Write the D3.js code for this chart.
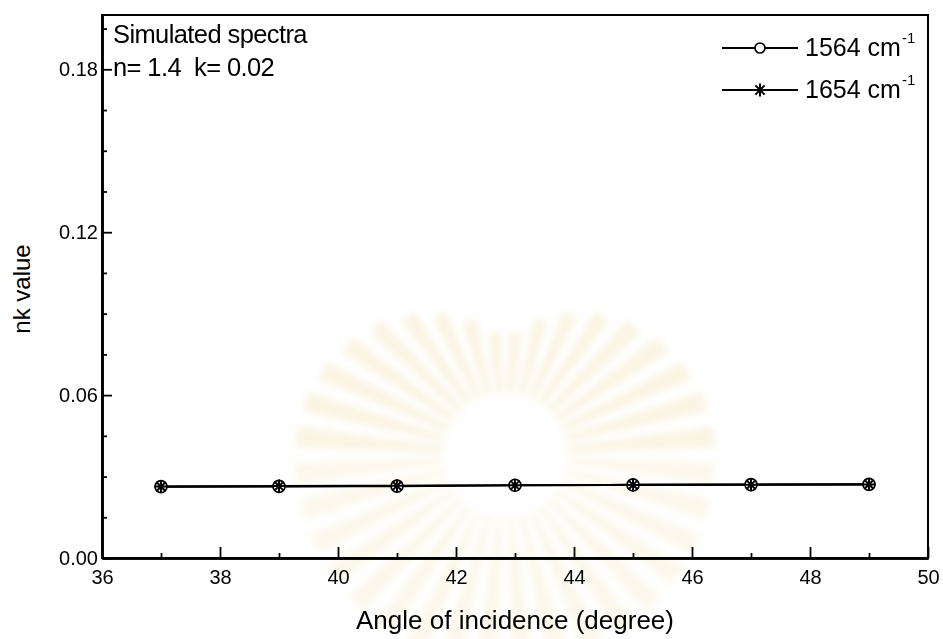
<!DOCTYPE html>
<html>
<head>
<meta charset="utf-8">
<script src="https://cdn.jsdelivr.net/npm/d3@7"></script>
<style>
  html, body { margin: 0; padding: 0; background: #fff; }
  svg { display: block; font-family: "Liberation Sans", Arial, sans-serif; }
  .pre { white-space: pre; }
</style>
</head>
<body>
<svg id="chart" width="943" height="639"></svg>
<script>
// Angle of incidence (degree)
const angles = [37, 39, 41, 43, 45, 47, 49];
// nk values for the two bands
const nk1564 = [0.0263, 0.0264, 0.0265, 0.0268, 0.0269, 0.0270, 0.0271];
const nk1654 = [0.0263, 0.0265, 0.0266, 0.0268, 0.0269, 0.0270, 0.0271];
const seriesNames = ["1564", "1654"];
const xMajorTicks = [36, 38, 40, 42, 44, 46, 48, 50];
const xMinorTicks = [37, 39, 41, 43, 45, 47, 49];
const yMajorTicks = [0, 0.06, 0.12, 0.18];
const yMinorTicks = [0.015, 0.03, 0.045, 0.075, 0.09, 0.105, 0.135, 0.15, 0.165, 0.195];
const annotationLines = ["Simulated spectra", "n= 1.4  k= 0.02"];

const svg = d3.select("#chart");
const plotLeft = 102, plotRight = 928, plotTop = 15, plotBottom = 558;

const x = d3.scaleLinear().domain([36, 50]).range([plotLeft, plotRight]);
const y = d3.scaleLinear().domain([0, 0.2]).range([plotBottom, plotTop]);

// soft emblem behind the plot
const defs = svg.append("defs");
defs.append("filter").attr("id", "soft")
  .append("feGaussianBlur").attr("stdDeviation", 3.5);
const emblem = svg.append("g").attr("transform", "translate(505,455)")
  .attr("filter", "url(#soft)").attr("opacity", 0.22);
const rayArc = d3.arc();
d3.range(-85, 86, 10).forEach(a => {
  const r0 = a * Math.PI / 180;
  emblem.append("path")
    .attr("d", rayArc({innerRadius: 62, outerRadius: 115 + 95 * Math.abs(Math.sin(r0)), startAngle: r0 - 0.05, endAngle: r0 + 0.05}))
    .attr("fill", "#e9cf80");
  emblem.append("path")
    .attr("d", rayArc({innerRadius: 62, outerRadius: 210, startAngle: r0 + Math.PI - 0.05, endAngle: r0 + Math.PI + 0.05}))
    .attr("fill", "#e9cf80").attr("opacity", 0.7);
});
emblem.append("circle").attr("r", 58).attr("fill", "#fff");

// plot frame
svg.append("rect")
  .attr("x", plotLeft).attr("y", plotTop)
  .attr("width", plotRight - plotLeft).attr("height", plotBottom - plotTop)
  .attr("fill", "none").attr("stroke", "#000").attr("stroke-width", 2);

// x axis
const gx = svg.append("g").attr("transform", `translate(0,${plotBottom})`)
  .call(d3.axisBottom(x).tickValues(xMajorTicks).tickSizeInner(-11).tickSizeOuter(0).tickPadding(12).tickFormat(d3.format("d")));
svg.append("g").attr("transform", `translate(0,${plotBottom})`)
  .call(d3.axisBottom(x).tickValues(xMinorTicks).tickSizeInner(-5).tickSizeOuter(0).tickFormat(""));

// y axis
const gy = svg.append("g").attr("transform", `translate(${plotLeft},0)`)
  .call(d3.axisLeft(y).tickValues(yMajorTicks).tickSizeInner(-10).tickSizeOuter(0).tickPadding(4).tickFormat(d3.format(".2f")));
svg.append("g").attr("transform", `translate(${plotLeft},0)`)
  .call(d3.axisLeft(y).tickValues(yMinorTicks).tickSizeInner(-5).tickSizeOuter(0).tickFormat(""));

svg.selectAll(".domain").attr("stroke", "#000").attr("stroke-width", 2.6);
svg.selectAll(".tick line").attr("stroke", "#000").attr("stroke-width", 1.8);
[gx, gy].forEach(g => g.selectAll("text").attr("font-size", 20).attr("fill", "#000")
  .attr("font-family", "Liberation Sans, Arial, sans-serif"));

// axis titles
svg.append("text").attr("x", (plotLeft + plotRight) / 2).attr("y", 629)
  .attr("text-anchor", "middle").attr("font-size", 26).text("Angle of incidence (degree)");
svg.append("text").attr("transform", `translate(30,289) rotate(-90)`)
  .attr("text-anchor", "middle").attr("font-size", 24).text("nk value");

// annotation
annotationLines.forEach((t, i) => {
  svg.append("text").attr("class", "pre").attr("x", 113).attr("y", 43 + i * 33)
    .attr("font-size", 25.5).attr("letter-spacing", -0.6).text(t);
});

// markers
function circleMark(g, cx, cy, r) {
  g.append("circle").attr("cx", cx).attr("cy", cy).attr("r", r)
    .attr("fill", "#fff").attr("stroke", "#000").attr("stroke-width", 1.7);
}
function starMark(g, cx, cy, r) {
  const p = d3.path();
  [0, 45, 90, 135].forEach(a => {
    const t = a * Math.PI / 180;
    p.moveTo(cx - r * Math.cos(t), cy - r * Math.sin(t));
    p.lineTo(cx + r * Math.cos(t), cy + r * Math.sin(t));
  });
  g.append("path").attr("d", p.toString()).attr("stroke", "#000").attr("stroke-width", 2).attr("fill", "none");
}

const line = d3.line().x((d, i) => x(angles[i])).y(d => y(d));
[nk1564, nk1654].forEach(s => {
  svg.append("path").datum(s).attr("d", line)
    .attr("fill", "none").attr("stroke", "#000").attr("stroke-width", 2.2);
});
const marks = svg.append("g");
nk1564.forEach((v, i) => circleMark(marks, x(angles[i]), y(v), 6));
nk1654.forEach((v, i) => starMark(marks, x(angles[i]), y(v), 6.5));

// legend
const legend = svg.append("g");
const markFns = [(g, cx, cy) => circleMark(g, cx, cy, 5), (g, cx, cy) => starMark(g, cx, cy, 6.5)];
seriesNames.forEach((name, i) => {
  const ly = 48 + i * 42;
  legend.append("line").attr("x1", 722).attr("x2", 798).attr("y1", ly).attr("y2", ly)
    .attr("stroke", "#000").attr("stroke-width", 2);
  markFns[i](legend, 760, ly);
  const t = legend.append("text").attr("x", 805).attr("y", ly + 8).attr("font-size", 25);
  t.append("tspan").text(name + " cm");
  t.append("tspan").attr("dy", -13).attr("dx", 1).attr("font-size", 15).text("-1");
});
</script>
</body>
</html>
